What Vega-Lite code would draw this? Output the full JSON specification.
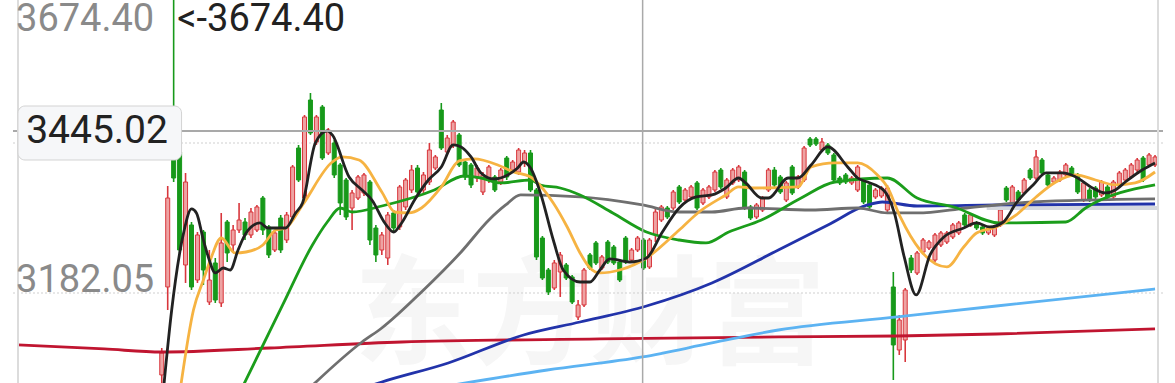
{
"$schema":"https://vega.github.io/schema/vega-lite/v6.json",
"width":1150,"height":383,
"padding":{"left":13,"right":12,"top":0,"bottom":0},
"autosize":{"type":"none"},
"background":"white",
"config":{"view":{"stroke":null}},
"datasets":{
"candles":[
{"i":0,"o":3018.2,"c":3056.7,"h":3065.4,"l":2988.4},
{"i":1,"o":3172.2,"c":3327.9,"h":3348.9,"l":3131.9},
{"i":2,"o":3394.4,"c":3362.9,"h":3674.4,"l":3355.9},
{"i":3,"o":3408.4,"c":3236.9,"h":3415.4,"l":3231.7},
{"i":4,"o":3210.7,"c":3355.9,"h":3371.7,"l":3179.2},
{"i":5,"o":3280.7,"c":3172.2,"h":3285.9,"l":3166.9},
{"i":6,"o":3184.4,"c":3263.2,"h":3268.4,"l":3179.2},
{"i":7,"o":3268.4,"c":3201.9,"h":3271.9,"l":3175.7},
{"i":8,"o":3145.9,"c":3184.4,"h":3236.9,"l":3140.7},
{"i":9,"o":3214.2,"c":3149.4,"h":3222.9,"l":3144.2},
{"i":10,"o":3144.2,"c":3249.2,"h":3301.7,"l":3137.2},
{"i":11,"o":3285.9,"c":3231.7,"h":3289.4,"l":3215.9},
{"i":12,"o":3245.7,"c":3271.9,"h":3280.7,"l":3231.7},
{"i":13,"o":3271.9,"c":3289.4,"h":3319.2,"l":3266.7},
{"i":14,"o":3285.9,"c":3263.2,"h":3292.9,"l":3254.4},
{"i":15,"o":3263.2,"c":3303.4,"h":3310.4,"l":3257.9},
{"i":16,"o":3271.9,"c":3312.2,"h":3315.7,"l":3268.4},
{"i":17,"o":3327.9,"c":3271.9,"h":3331.4,"l":3263.2},
{"i":18,"o":3277.2,"c":3228.2,"h":3280.7,"l":3222.9},
{"i":19,"o":3236.9,"c":3266.7,"h":3271.9,"l":3233.4},
{"i":20,"o":3292.9,"c":3236.9,"h":3298.2,"l":3231.7},
{"i":21,"o":3254.4,"c":3298.2,"h":3303.4,"l":3249.2},
{"i":22,"o":3294.7,"c":3382.2,"h":3385.7,"l":3289.4},
{"i":23,"o":3415.4,"c":3359.4,"h":3420.7,"l":3355.9},
{"i":24,"o":3327.9,"c":3469.7,"h":3473.2,"l":3324.4},
{"i":25,"o":3499.4,"c":3441.7,"h":3511.7,"l":3438.2},
{"i":26,"o":3425.9,"c":3469.7,"h":3473.2,"l":3420.7},
{"i":27,"o":3487.2,"c":3397.9,"h":3490.7,"l":3394.4},
{"i":28,"o":3406.7,"c":3446.9,"h":3450.4,"l":3403.2},
{"i":29,"o":3424.2,"c":3368.2,"h":3429.4,"l":3362.9},
{"i":30,"o":3385.7,"c":3319.2,"h":3389.2,"l":3298.2},
{"i":31,"o":3359.4,"c":3294.7,"h":3362.9,"l":3289.4},
{"i":32,"o":3310.4,"c":3336.7,"h":3341.9,"l":3271.9},
{"i":33,"o":3327.9,"c":3364.7,"h":3368.2,"l":3324.4},
{"i":34,"o":3336.7,"c":3368.2,"h":3371.7,"l":3331.4},
{"i":35,"o":3355.9,"c":3254.4,"h":3359.4,"l":3245.7},
{"i":36,"o":3275.4,"c":3228.2,"h":3280.7,"l":3215.9},
{"i":37,"o":3236.9,"c":3263.2,"h":3268.4,"l":3228.2},
{"i":38,"o":3222.9,"c":3298.2,"h":3303.4,"l":3210.7},
{"i":39,"o":3301.7,"c":3275.4,"h":3306.9,"l":3268.4},
{"i":40,"o":3277.2,"c":3347.2,"h":3350.7,"l":3271.9},
{"i":41,"o":3312.2,"c":3359.4,"h":3362.9,"l":3306.9},
{"i":42,"o":3341.9,"c":3376.9,"h":3385.7,"l":3336.7},
{"i":43,"o":3380.4,"c":3338.4,"h":3385.7,"l":3333.2},
{"i":44,"o":3341.9,"c":3368.2,"h":3373.4,"l":3336.7},
{"i":45,"o":3355.9,"c":3411.9,"h":3424.2,"l":3350.7},
{"i":46,"o":3380.4,"c":3399.7,"h":3403.2,"l":3376.9},
{"i":47,"o":3481.9,"c":3415.4,"h":3494.2,"l":3411.9},
{"i":48,"o":3408.4,"c":3432.9,"h":3438.2,"l":3403.2},
{"i":49,"o":3420.7,"c":3460.9,"h":3464.4,"l":3415.4},
{"i":50,"o":3438.2,"c":3385.7,"h":3441.7,"l":3382.2},
{"i":51,"o":3390.9,"c":3364.7,"h":3394.4,"l":3359.4},
{"i":52,"o":3385.7,"c":3350.7,"h":3389.2,"l":3345.4},
{"i":53,"o":3362.9,"c":3380.4,"h":3385.7,"l":3355.9},
{"i":54,"o":3338.4,"c":3368.2,"h":3373.4,"l":3333.2},
{"i":55,"o":3359.4,"c":3382.2,"h":3385.7,"l":3354.2},
{"i":56,"o":3364.7,"c":3341.9,"h":3368.2,"l":3338.4},
{"i":57,"o":3355.9,"c":3376.9,"h":3380.4,"l":3350.7},
{"i":58,"o":3397.9,"c":3364.7,"h":3401.4,"l":3359.4},
{"i":59,"o":3376.9,"c":3390.9,"h":3394.4,"l":3371.7},
{"i":60,"o":3373.4,"c":3411.9,"h":3415.4,"l":3368.2},
{"i":61,"o":3389.2,"c":3406.7,"h":3411.9,"l":3382.2},
{"i":62,"o":3406.7,"c":3341.9,"h":3411.9,"l":3338.4},
{"i":63,"o":3341.9,"c":3224.7,"h":3345.4,"l":3219.4},
{"i":64,"o":3257.9,"c":3187.9,"h":3261.4,"l":3184.4},
{"i":65,"o":3201.9,"c":3163.4,"h":3205.4,"l":3158.2},
{"i":66,"o":3170.4,"c":3214.2,"h":3219.4,"l":3166.9},
{"i":67,"o":3198.4,"c":3228.2,"h":3233.4,"l":3154.7},
{"i":68,"o":3210.7,"c":3187.9,"h":3214.2,"l":3184.4},
{"i":69,"o":3189.7,"c":3145.9,"h":3193.2,"l":3142.4},
{"i":70,"o":3119.7,"c":3140.7,"h":3149.4,"l":3114.4},
{"i":71,"o":3140.7,"c":3201.9,"h":3205.4,"l":3137.2},
{"i":72,"o":3228.2,"c":3205.4,"h":3231.7,"l":3201.9},
{"i":73,"o":3249.2,"c":3214.2,"h":3252.7,"l":3210.7},
{"i":74,"o":3205.4,"c":3224.7,"h":3228.2,"l":3201.9},
{"i":75,"o":3250.9,"c":3215.9,"h":3254.4,"l":3212.4},
{"i":76,"o":3242.2,"c":3214.2,"h":3245.7,"l":3210.7},
{"i":77,"o":3215.9,"c":3184.4,"h":3219.4,"l":3180.9},
{"i":78,"o":3257.9,"c":3215.9,"h":3261.4,"l":3212.4},
{"i":79,"o":3219.4,"c":3236.9,"h":3240.4,"l":3215.9},
{"i":80,"o":3236.9,"c":3257.9,"h":3261.4,"l":3233.4},
{"i":81,"o":3254.4,"c":3205.4,"h":3257.9,"l":3201.9},
{"i":82,"o":3207.2,"c":3254.4,"h":3257.9,"l":3203.7},
{"i":83,"o":3263.2,"c":3303.4,"h":3310.4,"l":3250.9},
{"i":84,"o":3289.4,"c":3312.2,"h":3315.7,"l":3285.9},
{"i":85,"o":3310.4,"c":3294.7,"h":3313.9,"l":3291.2},
{"i":86,"o":3310.4,"c":3338.4,"h":3341.9,"l":3306.9},
{"i":87,"o":3347.2,"c":3320.9,"h":3350.7,"l":3317.4},
{"i":88,"o":3324.4,"c":3341.9,"h":3345.4,"l":3320.9},
{"i":89,"o":3329.7,"c":3347.2,"h":3350.7,"l":3326.2},
{"i":90,"o":3354.2,"c":3310.4,"h":3357.7,"l":3306.9},
{"i":91,"o":3319.2,"c":3341.9,"h":3345.4,"l":3315.7},
{"i":92,"o":3329.7,"c":3347.2,"h":3350.7,"l":3326.2},
{"i":93,"o":3341.9,"c":3373.4,"h":3376.9,"l":3338.4},
{"i":94,"o":3376.9,"c":3347.2,"h":3380.4,"l":3343.7},
{"i":95,"o":3329.7,"c":3359.4,"h":3362.9,"l":3326.2},
{"i":96,"o":3354.2,"c":3376.9,"h":3380.4,"l":3350.7},
{"i":97,"o":3359.4,"c":3382.2,"h":3385.7,"l":3355.9},
{"i":98,"o":3373.4,"c":3310.4,"h":3376.9,"l":3306.9},
{"i":99,"o":3312.2,"c":3292.9,"h":3315.7,"l":3289.4},
{"i":100,"o":3294.7,"c":3315.7,"h":3319.2,"l":3291.2},
{"i":101,"o":3306.9,"c":3327.9,"h":3331.4,"l":3303.4},
{"i":102,"o":3341.9,"c":3376.9,"h":3380.4,"l":3338.4},
{"i":103,"o":3376.9,"c":3350.7,"h":3382.2,"l":3347.2},
{"i":104,"o":3364.7,"c":3338.4,"h":3368.2,"l":3334.9},
{"i":105,"o":3324.4,"c":3354.2,"h":3357.7,"l":3320.9},
{"i":106,"o":3382.2,"c":3336.7,"h":3385.7,"l":3333.2},
{"i":107,"o":3347.2,"c":3364.7,"h":3368.2,"l":3343.7},
{"i":108,"o":3359.4,"c":3415.4,"h":3418.9,"l":3355.9},
{"i":109,"o":3431.2,"c":3420.7,"h":3434.7,"l":3417.2},
{"i":110,"o":3431.2,"c":3422.4,"h":3434.7,"l":3418.9},
{"i":111,"o":3411.9,"c":3425.9,"h":3432.9,"l":3408.4},
{"i":112,"o":3420.7,"c":3406.7,"h":3424.2,"l":3403.2},
{"i":113,"o":3403.2,"c":3359.4,"h":3406.7,"l":3355.9},
{"i":114,"o":3362.9,"c":3354.2,"h":3366.4,"l":3350.7},
{"i":115,"o":3368.2,"c":3355.9,"h":3371.7,"l":3352.4},
{"i":116,"o":3354.2,"c":3362.9,"h":3366.4,"l":3350.7},
{"i":117,"o":3341.9,"c":3382.2,"h":3385.7,"l":3338.4},
{"i":118,"o":3359.4,"c":3320.9,"h":3362.9,"l":3317.4},
{"i":119,"o":3350.7,"c":3312.2,"h":3354.2,"l":3308.7},
{"i":120,"o":3329.7,"c":3341.9,"h":3345.4,"l":3326.2},
{"i":121,"o":3331.4,"c":3345.4,"h":3348.9,"l":3327.9},
{"i":122,"o":3306.9,"c":3345.4,"h":3350.7,"l":3303.4},
{"i":123,"o":3172.2,"c":3070.7,"h":3198.4,"l":3009.4},
{"i":124,"o":3061.9,"c":3114.4,"h":3123.2,"l":3053.2},
{"i":125,"o":3079.4,"c":3166.9,"h":3170.4,"l":3040.9},
{"i":126,"o":3222.9,"c":3201.9,"h":3228.2,"l":3196.7},
{"i":127,"o":3196.7,"c":3231.7,"h":3235.2,"l":3193.2},
{"i":128,"o":3233.4,"c":3254.4,"h":3257.9,"l":3229.9},
{"i":129,"o":3240.4,"c":3250.9,"h":3254.4,"l":3236.9},
{"i":130,"o":3219.4,"c":3263.2,"h":3266.7,"l":3215.9},
{"i":131,"o":3245.7,"c":3266.7,"h":3270.2,"l":3242.2},
{"i":132,"o":3250.9,"c":3266.7,"h":3270.2,"l":3247.4},
{"i":133,"o":3259.7,"c":3280.7,"h":3284.2,"l":3256.2},
{"i":134,"o":3266.7,"c":3284.2,"h":3287.7,"l":3263.2},
{"i":135,"o":3298.2,"c":3280.7,"h":3301.7,"l":3277.2},
{"i":136,"o":3280.7,"c":3298.2,"h":3301.7,"l":3277.2},
{"i":137,"o":3284.2,"c":3275.4,"h":3287.7,"l":3271.9},
{"i":138,"o":3277.2,"c":3266.7,"h":3280.7,"l":3263.2},
{"i":139,"o":3266.7,"c":3275.4,"h":3278.9,"l":3263.2},
{"i":140,"o":3263.2,"c":3277.2,"h":3280.7,"l":3259.7},
{"i":141,"o":3280.7,"c":3306.9,"h":3310.4,"l":3277.2},
{"i":142,"o":3345.4,"c":3324.4,"h":3348.9,"l":3320.9},
{"i":143,"o":3319.2,"c":3347.2,"h":3350.7,"l":3315.7},
{"i":144,"o":3338.4,"c":3324.4,"h":3341.9,"l":3320.9},
{"i":145,"o":3336.7,"c":3359.4,"h":3362.9,"l":3333.2},
{"i":146,"o":3376.9,"c":3362.9,"h":3380.4,"l":3359.4},
{"i":147,"o":3362.9,"c":3399.7,"h":3411.9,"l":3359.4},
{"i":148,"o":3394.4,"c":3371.7,"h":3397.9,"l":3368.2},
{"i":149,"o":3368.2,"c":3350.7,"h":3371.7,"l":3347.2},
{"i":150,"o":3355.9,"c":3362.9,"h":3366.4,"l":3352.4},
{"i":151,"o":3359.4,"c":3373.4,"h":3376.9,"l":3355.9},
{"i":152,"o":3368.2,"c":3385.7,"h":3389.2,"l":3364.7},
{"i":153,"o":3380.4,"c":3368.2,"h":3383.9,"l":3364.7},
{"i":154,"o":3368.2,"c":3338.4,"h":3371.7,"l":3334.9},
{"i":155,"o":3324.4,"c":3354.2,"h":3357.7,"l":3320.9},
{"i":156,"o":3341.9,"c":3324.4,"h":3345.4,"l":3320.9},
{"i":157,"o":3345.4,"c":3329.7,"h":3348.9,"l":3326.2},
{"i":158,"o":3333.2,"c":3355.9,"h":3359.4,"l":3329.7},
{"i":159,"o":3347.2,"c":3329.7,"h":3350.7,"l":3326.2},
{"i":160,"o":3329.7,"c":3355.9,"h":3359.4,"l":3326.2},
{"i":161,"o":3350.7,"c":3371.7,"h":3375.2,"l":3347.2},
{"i":162,"o":3359.4,"c":3376.9,"h":3380.4,"l":3355.9},
{"i":163,"o":3364.7,"c":3385.7,"h":3389.2,"l":3361.2},
{"i":164,"o":3376.9,"c":3394.4,"h":3397.9,"l":3373.4},
{"i":165,"o":3397.9,"c":3359.4,"h":3401.4,"l":3355.9},
{"i":166,"o":3385.7,"c":3403.2,"h":3406.7,"l":3382.2},
{"i":167,"o":3385.7,"c":3399.7,"h":3403.2,"l":3382.2}
],
"lines":[
{"s":"r","i":-24.17,"v":3070.7},{"s":"r","i":-9.67,"v":3063.7},{"s":"r","i":0,"v":3058.4},{"s":"r","i":18.17,"v":3065.4},{"s":"r","i":40.33,"v":3075.9},{"s":"r","i":73.67,"v":3081.2},{"s":"r","i":103.67,"v":3084.7},{"s":"r","i":123.67,"v":3086.4},{"s":"r","i":140.33,"v":3089.9},{"s":"r","i":167,"v":3098.7},
{"s":"lb","i":47,"v":2997.2},{"s":"lb","i":64.83,"v":3026.9},{"s":"lb","i":80.83,"v":3049.7},{"s":"lb","i":92.5,"v":3074.2},{"s":"lb","i":103.67,"v":3096.9},{"s":"lb","i":123.67,"v":3119.7},{"s":"lb","i":140.33,"v":3138.9},{"s":"lb","i":167,"v":3168.7},
{"s":"db","i":32.83,"v":2991.9},{"s":"db","i":37,"v":3005.9},{"s":"db","i":48.17,"v":3039.2},{"s":"db","i":60.83,"v":3088.2},{"s":"db","i":70.33,"v":3110.9},{"s":"db","i":81.5,"v":3138.9},{"s":"db","i":92.5,"v":3179.2},{"s":"db","i":103.67,"v":3236.9},{"s":"db","i":112,"v":3280.7},{"s":"db","i":118.67,"v":3315.7},{"s":"db","i":121.17,"v":3320.9},{"s":"db","i":127,"v":3313.9},{"s":"db","i":140.33,"v":3315.7},{"s":"db","i":167,"v":3317.4},
{"s":"gy","i":24.5,"v":2991.9},{"s":"gy","i":33.67,"v":3075.9},{"s":"gy","i":37,"v":3100.4},{"s":"gy","i":43.67,"v":3163.4},{"s":"gy","i":50.33,"v":3233.4},{"s":"gy","i":55,"v":3289.4},{"s":"gy","i":57.83,"v":3315.7},{"s":"gy","i":60.33,"v":3333.2},{"s":"gy","i":70.33,"v":3329.7},{"s":"gy","i":80.83,"v":3315.7},{"s":"gy","i":87,"v":3303.4},{"s":"gy","i":92.5,"v":3303.4},{"s":"gy","i":98.17,"v":3310.4},{"s":"gy","i":109.17,"v":3306.9},{"s":"gy","i":117,"v":3310.4},{"s":"gy","i":122,"v":3301.7},{"s":"gy","i":127,"v":3301.7},{"s":"gy","i":135.33,"v":3310.4},{"s":"gy","i":146.5,"v":3320.9},{"s":"gy","i":167,"v":3326.2},
{"s":"gr","i":13.33,"v":2991.9},{"s":"gr","i":20.33,"v":3140.7},{"s":"gr","i":25.33,"v":3245.7},{"s":"gr","i":27.83,"v":3285.9},{"s":"gr","i":30,"v":3310.4},{"s":"gr","i":32,"v":3303.4},{"s":"gr","i":37,"v":3313.9},{"s":"gr","i":45.83,"v":3341.9},{"s":"gr","i":50.83,"v":3366.4},{"s":"gr","i":53.67,"v":3362.9},{"s":"gr","i":57,"v":3354.2},{"s":"gr","i":62,"v":3359.4},{"s":"gr","i":63.67,"v":3350.7},{"s":"gr","i":67,"v":3345.4},{"s":"gr","i":70.33,"v":3333.2},{"s":"gr","i":75.83,"v":3301.7},{"s":"gr","i":81.5,"v":3268.4},{"s":"gr","i":87,"v":3254.4},{"s":"gr","i":91.5,"v":3249.2},{"s":"gr","i":95.33,"v":3268.4},{"s":"gr","i":100.83,"v":3289.4},{"s":"gr","i":107.5,"v":3327.9},{"s":"gr","i":113.17,"v":3355.9},{"s":"gr","i":122,"v":3362.9},{"s":"gr","i":127,"v":3327.9},{"s":"gr","i":133.17,"v":3312.2},{"s":"gr","i":140.83,"v":3284.2},{"s":"gr","i":152,"v":3285.9},{"s":"gr","i":155.33,"v":3310.4},{"s":"gr","i":167,"v":3350.7},
{"s":"or","i":3.17,"v":2997.2},{"s":"or","i":5.33,"v":3131.9},{"s":"or","i":7,"v":3184.4},{"s":"or","i":8.17,"v":3219.4},{"s":"or","i":10,"v":3257.9},{"s":"or","i":12.33,"v":3231.7},{"s":"or","i":14.17,"v":3233.4},{"s":"or","i":17,"v":3245.7},{"s":"or","i":19.17,"v":3271.9},{"s":"or","i":20.83,"v":3275.4},{"s":"or","i":23.67,"v":3315.7},{"s":"or","i":28.67,"v":3390.9},{"s":"or","i":30.33,"v":3399.7},{"s":"or","i":33.17,"v":3394.4},{"s":"or","i":37,"v":3338.4},{"s":"or","i":39.17,"v":3303.4},{"s":"or","i":41.5,"v":3301.7},{"s":"or","i":43.67,"v":3310.4},{"s":"or","i":47,"v":3347.2},{"s":"or","i":50,"v":3392.7},{"s":"or","i":52.5,"v":3396.2},{"s":"or","i":56.5,"v":3385.7},{"s":"or","i":59.17,"v":3373.4},{"s":"or","i":62,"v":3364.7},{"s":"or","i":65.83,"v":3319.2},{"s":"or","i":68.17,"v":3277.2},{"s":"or","i":70.33,"v":3231.7},{"s":"or","i":72,"v":3205.4},{"s":"or","i":73.67,"v":3196.7},{"s":"or","i":77,"v":3201.9},{"s":"or","i":81.5,"v":3222.9},{"s":"or","i":87,"v":3271.9},{"s":"or","i":90.33,"v":3303.4},{"s":"or","i":94.83,"v":3333.2},{"s":"or","i":97,"v":3347.2},{"s":"or","i":99.83,"v":3345.4},{"s":"or","i":107,"v":3347.2},{"s":"or","i":109.17,"v":3382.2},{"s":"or","i":113.17,"v":3389.2},{"s":"or","i":117,"v":3389.2},{"s":"or","i":120.33,"v":3368.2},{"s":"or","i":122,"v":3347.2},{"s":"or","i":124.17,"v":3294.7},{"s":"or","i":127.5,"v":3236.9},{"s":"or","i":132,"v":3207.2},{"s":"or","i":134.83,"v":3242.2},{"s":"or","i":137,"v":3266.7},{"s":"or","i":140.33,"v":3277.2},{"s":"or","i":143.67,"v":3298.2},{"s":"or","i":147,"v":3329.7},{"s":"or","i":150.33,"v":3355.9},{"s":"or","i":153.67,"v":3368.2},{"s":"or","i":157,"v":3359.4},{"s":"or","i":160.33,"v":3350.7},{"s":"or","i":163.67,"v":3354.2},{"s":"or","i":167,"v":3373.4},
{"s":"bk","i":0.33,"v":2997.2},{"s":"bk","i":1.67,"v":3131.9},{"s":"bk","i":3.67,"v":3266.7},{"s":"bk","i":5,"v":3308.7},{"s":"bk","i":5.83,"v":3301.7},{"s":"bk","i":7,"v":3254.4},{"s":"bk","i":7.83,"v":3224.7},{"s":"bk","i":9,"v":3196.7},{"s":"bk","i":10.33,"v":3205.4},{"s":"bk","i":11.5,"v":3201.9},{"s":"bk","i":12.83,"v":3236.9},{"s":"bk","i":14.17,"v":3266.7},{"s":"bk","i":16.5,"v":3284.2},{"s":"bk","i":17.83,"v":3275.4},{"s":"bk","i":20.83,"v":3275.4},{"s":"bk","i":22.5,"v":3301.7},{"s":"bk","i":23.67,"v":3319.2},{"s":"bk","i":25.83,"v":3424.2},{"s":"bk","i":27.83,"v":3445.2},{"s":"bk","i":28.67,"v":3438.2},{"s":"bk","i":31.5,"v":3364.7},{"s":"bk","i":33.67,"v":3341.9},{"s":"bk","i":35.33,"v":3324.4},{"s":"bk","i":37.5,"v":3284.2},{"s":"bk","i":39,"v":3268.4},{"s":"bk","i":40.33,"v":3284.2},{"s":"bk","i":42.5,"v":3324.4},{"s":"bk","i":44.83,"v":3359.4},{"s":"bk","i":47,"v":3382.2},{"s":"bk","i":49,"v":3420.7},{"s":"bk","i":50.33,"v":3417.2},{"s":"bk","i":52,"v":3399.7},{"s":"bk","i":53.67,"v":3371.7},{"s":"bk","i":55.83,"v":3361.2},{"s":"bk","i":58.17,"v":3368.2},{"s":"bk","i":59.83,"v":3380.4},{"s":"bk","i":60.83,"v":3390.9},{"s":"bk","i":62,"v":3380.4},{"s":"bk","i":63.67,"v":3336.7},{"s":"bk","i":65.83,"v":3254.4},{"s":"bk","i":67.5,"v":3201.9},{"s":"bk","i":70.33,"v":3180.9},{"s":"bk","i":72,"v":3180.9},{"s":"bk","i":73.67,"v":3201.9},{"s":"bk","i":75.33,"v":3221.2},{"s":"bk","i":78.67,"v":3215.9},{"s":"bk","i":81.5,"v":3222.9},{"s":"bk","i":84.17,"v":3268.4},{"s":"bk","i":87,"v":3310.4},{"s":"bk","i":89.83,"v":3329.7},{"s":"bk","i":92.5,"v":3333.2},{"s":"bk","i":94.83,"v":3345.4},{"s":"bk","i":97,"v":3362.9},{"s":"bk","i":98.17,"v":3354.2},{"s":"bk","i":100.83,"v":3327.9},{"s":"bk","i":102,"v":3327.9},{"s":"bk","i":105.33,"v":3362.9},{"s":"bk","i":107,"v":3362.9},{"s":"bk","i":109.17,"v":3385.7},{"s":"bk","i":112,"v":3417.2},{"s":"bk","i":115.33,"v":3382.2},{"s":"bk","i":117,"v":3362.9},{"s":"bk","i":118.67,"v":3355.9},{"s":"bk","i":121.5,"v":3340.2},{"s":"bk","i":123.17,"v":3301.7},{"s":"bk","i":124.83,"v":3224.7},{"s":"bk","i":126.83,"v":3158.2},{"s":"bk","i":129.17,"v":3228.2},{"s":"bk","i":131.5,"v":3259.7},{"s":"bk","i":134.83,"v":3275.4},{"s":"bk","i":137,"v":3284.2},{"s":"bk","i":139.17,"v":3277.2},{"s":"bk","i":141.5,"v":3285.9},{"s":"bk","i":143.67,"v":3319.2},{"s":"bk","i":146.5,"v":3350.7},{"s":"bk","i":148.67,"v":3371.7},{"s":"bk","i":151.5,"v":3371.7},{"s":"bk","i":153.67,"v":3364.7},{"s":"bk","i":156.5,"v":3345.4},{"s":"bk","i":158.67,"v":3336.7},{"s":"bk","i":160.33,"v":3341.9},{"s":"bk","i":162,"v":3355.9},{"s":"bk","i":164.83,"v":3376.9},{"s":"bk","i":167,"v":3389.2}
],
"band":[{"i":138.7,"v":3310.4},{"i":167.5,"v":3310.4}]
},
"layer":[
{"data":{"values":[{"t":"东方财富"}]},"mark":{"type":"text","fontSize":118,"font":"Noto Sans CJK SC","fontWeight":"bold","color":"#f6f6f6","baseline":"middle","align":"center"},
 "encoding":{"x":{"datum":72,"type":"quantitative","scale":{"domain":[-24.17,167.5],"nice":false,"zero":false},"axis":null},"y":{"datum":3114,"type":"quantitative","scale":{"domain":[3004.15,3674.4],"nice":false,"zero":false},"axis":null},"text":{"field":"t"}}},
{"data":{"values":[{"v":3424.15},{"v":3161.65}]},"mark":{"type":"rule","color":"#cfcfcf","strokeWidth":1,"strokeDash":[2,2]},"encoding":{"y":{"field":"v","type":"quantitative"}}},
{"data":{"name":"candles"},"mark":{"type":"rule","strokeWidth":1.6,"clip":true},
 "encoding":{"x":{"field":"i","type":"quantitative"},"y":{"field":"l","type":"quantitative"},"y2":{"field":"h"},
 "color":{"condition":{"test":"datum.c >= datum.o","value":"#d8363c"},"value":"#17991a"}}},
{"data":{"name":"candles"},"mark":{"type":"bar","width":4,"strokeWidth":1,"clip":true},
 "encoding":{"x":{"field":"i","type":"quantitative"},"y":{"field":"o","type":"quantitative"},"y2":{"field":"c"},
 "fill":{"condition":{"test":"datum.c >= datum.o","value":"#eea3a3"},"value":"#17991a"},
 "stroke":{"condition":{"test":"datum.c >= datum.o","value":"#d8363c"},"value":"#17991a"}}},
{"data":{"name":"band"},"mark":{"type":"line","color":"#d6d9df","strokeWidth":4,"clip":true},"encoding":{"x":{"field":"i","type":"quantitative"},"y":{"field":"v","type":"quantitative"}}},
{"data":{"name":"lines"},"mark":{"type":"line","strokeWidth":2.8,"clip":true,"interpolate":"monotone"},
 "encoding":{"x":{"field":"i","type":"quantitative"},"y":{"field":"v","type":"quantitative"},
 "color":{"field":"s","type":"nominal","legend":null,"scale":{"domain":["r","lb","db","gy","gr","or","bk"],"range":["#c01530","#5cb3f2","#2233aa","#6f6f6f","#1b9d1b","#f6b342","#222222"]}}}},
{"data":{"values":[{"v":3445.02}]},"mark":{"type":"rule","color":"#a9a9a9","strokeWidth":2},"encoding":{"y":{"field":"v","type":"quantitative"}}},
{"data":{"values":[{"x":80.85}]},"mark":{"type":"rule","color":"#a9a9a9","strokeWidth":1.5},"encoding":{"x":{"field":"x","type":"quantitative"}}},
{"data":{"values":[{"x":-24.17},{"x":167.5}]},"mark":{"type":"rule","color":"#dcdcdc","strokeWidth":2},"encoding":{"x":{"field":"x","type":"quantitative"}}},
{"data":{"values":[{"a":-24.17,"b":3.33,"top":3488.9,"bot":3394.4}]},"mark":{"type":"rect","fill":"#f6f7f9","stroke":"#d3d3d3","strokeWidth":1,"cornerRadius":7},
 "encoding":{"x":{"field":"a","type":"quantitative"},"x2":{"field":"b"},"y":{"field":"top","type":"quantitative"},"y2":{"field":"bot"}}},
{"data":{"values":[{"t":"3445.02","x":-22.8,"v":3445.02}]},"mark":{"type":"text","font":"Roboto","fontSize":39,"color":"#222222","align":"left","baseline":"middle"},
 "encoding":{"x":{"field":"x","type":"quantitative"},"y":{"field":"v","type":"quantitative"},"text":{"field":"t"}}},
{"data":{"values":[{"t":"3674.40","x":-24.5,"v":3620.5}]},"mark":{"type":"text","font":"Roboto","fontSize":38,"color":"#8a8a8a","align":"left","baseline":"alphabetic"},
 "encoding":{"x":{"field":"x","type":"quantitative"},"y":{"field":"v","type":"quantitative"},"text":{"field":"t"}}},
{"data":{"values":[{"t":"<-3674.40","x":2.6,"v":3620.5}]},"mark":{"type":"text","font":"Roboto","fontSize":38,"color":"#222222","align":"left","baseline":"alphabetic"},
 "encoding":{"x":{"field":"x","type":"quantitative"},"y":{"field":"v","type":"quantitative"},"text":{"field":"t"}}},
{"data":{"values":[{"t":"3182.05","x":-24.5,"v":3182.05}]},"mark":{"type":"text","font":"Roboto","fontSize":38,"color":"#8a8a8a","align":"left","baseline":"middle"},
 "encoding":{"x":{"field":"x","type":"quantitative"},"y":{"field":"v","type":"quantitative"},"text":{"field":"t"}}}
]
}
